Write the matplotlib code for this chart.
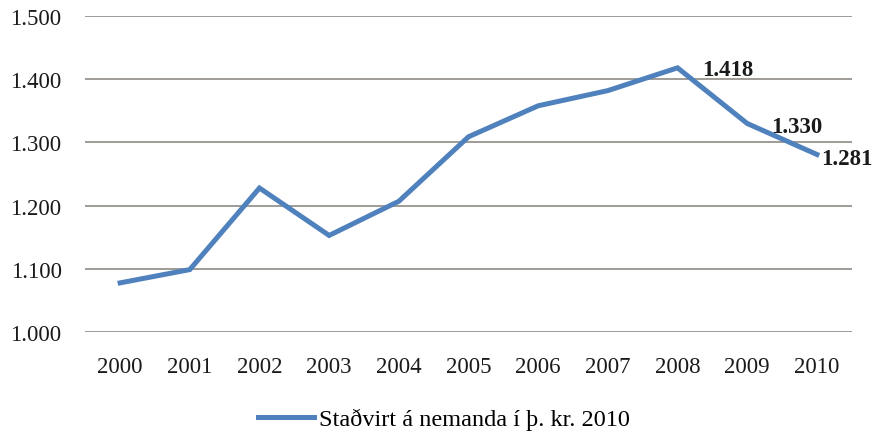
import matplotlib
matplotlib.use("Agg")
import matplotlib.pyplot as plt
from matplotlib.ticker import FuncFormatter

years = ['2000', '2001', '2002', '2003', '2004', '2005', '2006', '2007', '2008', '2009', '2010']
values = [1078, 1099, 1228, 1153, 1207, 1309, 1358, 1382, 1418, 1330, 1281]
labelled = ['2008', '2009', '2010']
series_name = 'Staðvirt á nemanda í þ. kr. 2010'

def isl(v, pos=None):
    return f'{int(round(v)):,}'.replace(',', '.')

plt.rcParams['font.family'] = ['Liberation Serif', 'DejaVu Serif']

fig = plt.figure(figsize=(8.79, 4.35), dpi=100)
ax = fig.add_axes([0.097, 0.234, 0.872, 0.727])

x = list(range(len(years)))
ax.plot(x, values, color='#4F81BD', lw=3.6, solid_joinstyle='miter', label=series_name)

# label offsets in points (excel style "right" labels)
offs = {'2008': (18, -1), '2009': (17, -2), '2010': (3, -3)}
for i, y in enumerate(years):
    if y in labelled:
        ax.annotate(isl(values[i]), (x[i], values[i]), xytext=offs[y], textcoords='offset points',
                    ha='left', va='center', fontsize=16.5, fontweight='bold', color='#1a1a1a')

ax.set_xlim(-0.5, len(years) - 0.5)
ax.set_ylim(1000, 1500)
ax.set_yticks(range(1000, 1501, 100))
ax.yaxis.set_major_formatter(FuncFormatter(isl))
ax.set_xticks(x)
ax.set_xticklabels(years)
ax.grid(axis='y', color='#8f8a85', lw=1.2)
ax.set_axisbelow(True)
for s in ax.spines.values():
    s.set_visible(False)
ax.tick_params(length=0, labelsize=16.5, colors='#1a1a1a')
ax.tick_params(axis='y', pad=17)
ax.tick_params(axis='x', pad=17)

fig.legend(loc='lower center', bbox_to_anchor=(0.505, -0.042), frameon=False, fontsize=17.5,
           handlelength=2.3, handletextpad=0.2)

fig.savefig('out.png', dpi=100)
